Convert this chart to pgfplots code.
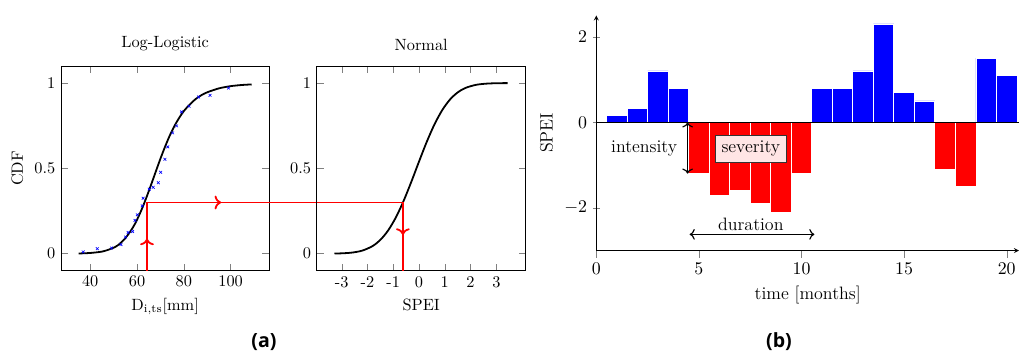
\documentclass[border=0pt]{standalone}
\usepackage{pgfplots}
\pgfplotsset{compat=1.18}
\usepackage{fontspec}
\newfontfamily\capfont{Open Sans}
\usetikzlibrary{decorations.markings,arrows.meta}

\begin{document}
\begin{tikzpicture}
\useasboundingbox (0pt,0pt) rectangle (625.16pt,216.57pt);

% ---------------- Log-Logistic ----------------
\begin{axis}[
  at={(37.42pt,50.49pt)}, anchor=south west,
  scale only axis, width=127.79pt, height=125.58pt,
  xmin=27.5, xmax=116.5, ymin=-0.1, ymax=1.1,
  xtick={40,60,80,100}, ytick={0,0.5,1},
  title={Log-Logistic},
  xlabel={$\mathrm{D_{i,ts}}$[mm]}, ylabel={CDF},
  clip=false,
]
\addplot[blue, only marks, mark=x, mark size=1.2pt] coordinates {
(37.0,0.010) (43.0,0.029) (49.1,0.033) (53.1,0.053) (55.1,0.097)
(56.2,0.124) (58.1,0.130) (59.1,0.195) (60.1,0.228) (62.2,0.280)
(62.6,0.325) (65.2,0.378) (66.9,0.389) (69.1,0.416) (70.1,0.477)
(71.9,0.553) (73.1,0.626) (75.2,0.708) (76.9,0.749) (79.0,0.831)
(82.2,0.864) (86.3,0.918) (91.2,0.928) (99.1,0.971)
};
\addplot[black, line width=1.1pt, smooth] coordinates {
(35,0.001) (40,0.004) (45,0.012) (48,0.024) (50,0.035) (52,0.051) (55,0.091) (58,0.148)
(60,0.199) (62,0.260) (64,0.329) (66,0.404) (68,0.481) (70,0.557)
(72,0.628) (74,0.693) (76,0.749) (78,0.796) (80,0.836) (82.5,0.874) (85,0.906)
(87.5,0.929) (90,0.946) (95,0.969) (100,0.982) (105,0.989) (109,0.992)
};
\addplot[red, line width=1.1pt, postaction={decorate},
  decoration={markings, mark=at position 0.47 with {\arrow{>}}}]
  coordinates {(64.25,-0.1) (64.25,0.3)};
\addplot[red, line width=1.1pt, postaction={decorate},
  decoration={markings, mark=at position 0.29 with {\arrow{>}}}]
  coordinates {(64.25,0.3) (173.5,0.3)};
\end{axis}

% ---------------- Normal ----------------
\begin{axis}[
  at={(194.30pt,50.49pt)}, anchor=south west,
  scale only axis, width=128.22pt, height=125.58pt,
  xmin=-3.97, xmax=4.14, ymin=-0.1, ymax=1.1,
  xtick={-3,-2,-1,0,1,2,3}, xticklabels={-3,-2,-1,0,1,2,3},
  ytick={0,0.5,1},
  title={Normal}, xlabel={SPEI},
  clip=false,
]
\addplot[black, line width=1.1pt, smooth] coordinates {
(-3.28,0.0007) (-3.0,0.0019) (-2.6,0.0062) (-2.2,0.0179) (-1.8,0.0446)
(-1.5,0.0808) (-1.2,0.1357) (-0.9,0.2119) (-0.6,0.3085) (-0.3,0.4207)
(0,0.5398) (0.3,0.6554) (0.6,0.7580) (0.9,0.8413) (1.2,0.9032)
(1.5,0.9452) (1.8,0.9713) (2.2,0.9893) (2.6,0.9965) (3.0,0.9990) (3.44,0.9998)
};
\addplot[red, line width=1.1pt, postaction={decorate},
  decoration={markings, mark=at position 0.475 with {\arrow{>}}}]
  coordinates {(-0.625,0.3) (-0.625,-0.1)};
\end{axis}

% ---------------- SPEI bars ----------------
\begin{axis}[
  at={(365.83pt,62.82pt)}, anchor=south west,
  scale only axis, width=259.33pt, height=144.30pt,
  axis lines=left,
  xmin=0, xmax=20.6, ymin=-3, ymax=2.5,
  xtick={0,5,10,15,20}, ytick={-2,0,2},
  xlabel={time [months]}, ylabel={SPEI},
  ybar, bar width=1, bar shift=0pt,
  tick label style={font=\fontsize{11}{13}\selectfont},
  label style={font=\fontsize{11}{13}\selectfont},
  clip=false,
]
\addplot[fill=blue, draw=white, line width=0.5pt] coordinates {
(1,0.15) (2,0.33) (3,1.2) (4,0.8) (11,0.8) (12,0.8) (13,1.2) (14,2.3)
(15,0.7) (16,0.5) (19,1.5) (20,1.1)
};
\addplot[fill=red, draw=white, line width=0.5pt] coordinates {
(5,-1.2) (6,-1.72) (7,-1.6) (8,-1.9) (9,-2.1) (10,-1.2) (17,-1.1) (18,-1.5)
};
\addplot[black, sharp plot, line width=0.6pt] coordinates {(0,0) (20.6,0)};
\addplot[black, sharp plot, <->, line width=0.7pt] coordinates {(4.45,0) (4.45,-1.2)};
\addplot[black, sharp plot, <->, line width=0.7pt] coordinates {(4.55,-2.62) (10.63,-2.62)};
\node[font=\fontsize{11}{13}\selectfont] at (axis cs:2.33,-0.61) {intensity};
\node[font=\fontsize{11}{13}\selectfont, draw=black!80, fill=red!10, inner sep=3.5pt]
  at (axis cs:7.53,-0.62) {severity};
\node[font=\fontsize{11}{13}\selectfont] at (axis cs:7.53,-2.38) {duration};
\end{axis}

\node[font=\capfont\bfseries\fontsize{12}{14}\selectfont] at (161.96pt,6.75pt) {(a)};
\node[font=\capfont\bfseries\fontsize{12}{14}\selectfont] at (477.9pt,6.75pt) {(b)};
\end{tikzpicture}
\end{document}
